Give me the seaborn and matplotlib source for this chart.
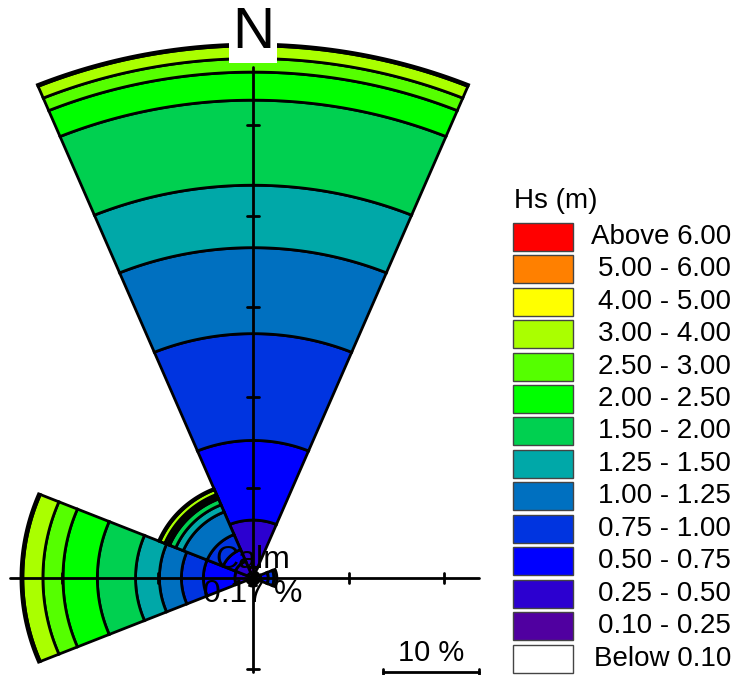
import numpy as np
import matplotlib
matplotlib.use('Agg')
import matplotlib.pyplot as plt
from matplotlib.patches import Rectangle
import seaborn as sns

# Hs classes, lowest first, and their colours
hs_labels = ['Below 0.10', '0.10 - 0.25', '0.25 - 0.50', '0.50 - 0.75', '0.75 - 1.00',
             '1.00 - 1.25', '1.25 - 1.50', '1.50 - 2.00', '2.00 - 2.50', '2.50 - 3.00',
             '3.00 - 4.00', '4.00 - 5.00', '5.00 - 6.00', 'Above 6.00']
hs_colors = ['#ffffff', '#5000a0', '#2c00d0', '#0000ff', '#0034e0', '#0070c0', '#00a8a8',
             '#00d050', '#00ff00', '#55ff00', '#aaff00', '#ffff00', '#ff8000', '#ff0000']

directions = ['N', 'NE', 'E', 'SE', 'S', 'SW', 'W', 'NW']
bearings = [0, 45, 90, 135, 180, 225, 270, 315]

# frequency (%) of each Hs class per direction (same order as hs_labels)
freq_N = [0.0, 1.2, 5.2, 8.8, 11.8, 9.5, 6.9, 9.4, 3.1, 1.5, 1.4, 0.2, 0.0, 0.0]
freq_NE = [0.0, 0.2, 0.3, 0.2, 0.0, 0.0, 0.0, 0.0, 0.0, 0.0, 0.0, 0.0, 0.0, 0.0]
freq_E = [0.0, 0.2, 0.6, 0.8, 0.6, 0.3, 0.0, 0.0, 0.0, 0.0, 0.0, 0.0, 0.0, 0.0]
freq_SE = [0.0, 0.2, 0.3, 0.2, 0.0, 0.0, 0.0, 0.0, 0.0, 0.0, 0.0, 0.0, 0.0, 0.0]
freq_S = [0.0, 0.3, 0.4, 0.2, 0.0, 0.0, 0.0, 0.0, 0.0, 0.0, 0.0, 0.0, 0.0, 0.0]
freq_SW = [0.0, 0.2, 0.3, 0.2, 0.0, 0.0, 0.0, 0.0, 0.0, 0.0, 0.0, 0.0, 0.0, 0.0]
freq_W = [0.0, 0.3, 1.6, 3.3, 2.3, 2.3, 2.5, 4.0, 3.6, 2.1, 2.1, 0.2, 0.0, 0.0]
freq_NW = [0.0, 0.6, 1.4, 1.4, 1.8, 2.7, 0.85, 0.7, 0.25, 0.3, 0.55, 0.15, 0.0, 0.0]
calm = 0.17

freqs = [freq_N, freq_NE, freq_E, freq_SE, freq_S, freq_SW, freq_W, freq_NW]

# the source picture is stretched a bit horizontally: px per % differ in x and y
W_PX, H_PX = 735, 675
px_x, px_y = 9.55, 9.05
cx, cy = 253, 578


def band(bearing, r0, r1, half=22.5, n=60):
    a = np.radians(np.linspace(bearing - half, bearing + half, n))
    xs = np.concatenate([r1 * np.sin(a), r0 * np.sin(a[::-1])])
    ys = np.concatenate([r1 * np.cos(a), r0 * np.cos(a[::-1])])
    return xs, ys


def fx(x):
    return x / W_PX


def fy(y):
    return 1 - y / H_PX


sns.set_theme(style='white')
plt.rcParams['font.family'] = ['Liberation Sans', 'DejaVu Sans']
plt.rcParams['text.color'] = 'black'

fig = plt.figure(figsize=(7.35, 6.75), dpi=100)
ax = fig.add_axes([0, 0, 1, 1])
ax.set_xlim(-cx / px_x, (W_PX - cx) / px_x)
ax.set_ylim(-(H_PX - cy) / px_y, cy / px_y)
ax.axis('off')

# stacked sectors
for b, f in zip(bearings, freqs):
    cum = np.concatenate([[0], np.cumsum(f)])
    for k in range(len(f)):
        if f[k] <= 0:
            continue
        xs, ys = band(b, cum[k], cum[k + 1])
        ax.fill(xs, ys, facecolor=hs_colors[k], edgecolor='black', lw=2.0, zorder=2)

# axes cross with 10 % ticks
x_left, x_right, y_bottom, y_top = -25.4, 23.7, -10.4, 56.5
ax.plot([x_left, x_right], [0, 0], color='black', lw=2.0, zorder=3)
ax.plot([0, 0], [y_bottom, y_top], color='black', lw=2.0, zorder=3)
tick = 0.6
for t in np.arange(10, 60, 10):
    if t <= x_right:
        ax.plot([t, t], [-tick, tick], color='black', lw=2.0, zorder=3)
    if -t >= x_left:
        ax.plot([-t, -t], [-tick, tick], color='black', lw=2.0, zorder=3)
    if t <= y_top:
        ax.plot([-tick, tick], [t, t], color='black', lw=2.0, zorder=3)
    if -t >= y_bottom:
        ax.plot([-tick, tick], [-t, -t], color='black', lw=2.0, zorder=3)

ax.text(0, (cy - 33) / px_y, 'N', ha='center', va='center', fontsize=42, zorder=5,
        bbox=dict(facecolor='white', edgecolor='none', pad=2))

ax.text(0, 2.0, 'Calm', ha='center', va='center', fontsize=23, zorder=4)
ax.text(0, -1.8, '{:.2f} %'.format(calm), ha='center', va='center', fontsize=23, zorder=4)

# 10 % scale bar
sb_x0 = (383 - cx) / px_x
sb_y = (cy - 672) / px_y
ax.plot([sb_x0, sb_x0 + 10], [sb_y, sb_y], color='black', lw=2.0, zorder=3)
for xe in [sb_x0, sb_x0 + 10]:
    ax.plot([xe, xe], [sb_y - 0.35, sb_y + 0.35], color='black', lw=2.0, zorder=3)
ax.text(sb_x0 + 5, (cy - 653) / px_y, '10 %', ha='center', va='center', fontsize=21)

# legend
fig.text(fx(514), fy(201), 'Hs (m)', ha='left', va='center', fontsize=20)
for i, (lab, col) in enumerate(zip(hs_labels[::-1], hs_colors[::-1])):
    top = 222.7 + 32.45 * i
    fig.add_artist(Rectangle((fx(513), fy(top + 28)), 60 / W_PX, 28 / H_PX,
                             transform=fig.transFigure, facecolor=col,
                             edgecolor='#444444', lw=1))
    fig.text(fx(731), fy(top + 14), lab, ha='right', va='center', fontsize=20)

fig.savefig('out.png', dpi=100)
